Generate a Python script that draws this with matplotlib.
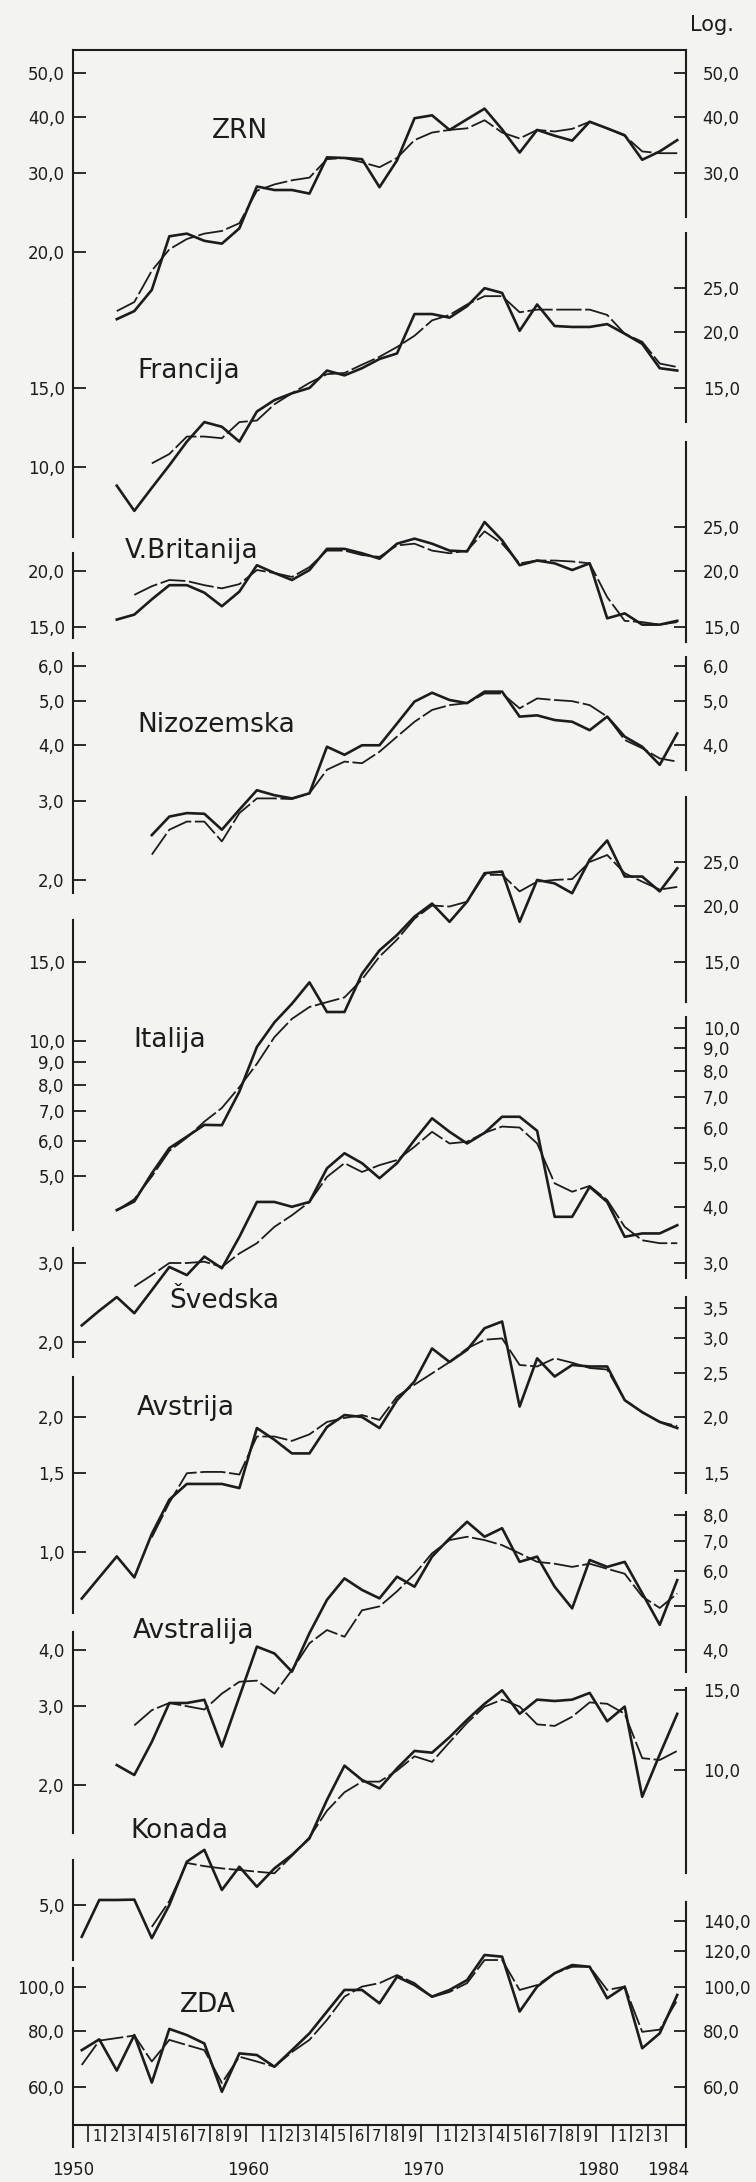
import numpy as np
import matplotlib
matplotlib.use("Agg")
import matplotlib.pyplot as plt
from matplotlib.ticker import NullLocator

plt.rcParams['font.family'] = ['DejaVu Sans']

# indices per country (log scale), actual series and smoothed trend
names = ['ZRN', 'Francija', 'V.Britanija', 'Nizozemska', 'Italija',
         'Švedska', 'Avstrija', 'Avstralija', 'Konada', 'ZDA']

zrn_start, zrn_trd_start = 1952, 1952
zrn_act = [14.2, 14.8, 16.5, 21.7, 22.0, 21.2, 20.9, 22.6, 28.0, 27.5, 27.5, 27.0, 32.5, 32.4, 32.2, 27.9, 32.0,
           39.7, 40.3, 37.4, 39.5, 41.7, 37.5, 33.3, 37.4, 36.3, 35.4, 39.0, 37.7, 36.4, 32.1, 33.5, 35.5]
zrn_trd = [14.8, 15.5, 18.2, 20.3, 21.4, 22.0, 22.3, 23.2, 27.4, 28.3, 28.9, 29.3, 32.2, 32.4, 31.7, 30.9, 32.4,
           35.5, 36.9, 37.4, 37.7, 39.3, 36.9, 35.8, 37.4, 37.1, 37.6, 39.0, 37.7, 36.3, 33.5, 33.2, 33.2]

fra_start, fra_trd_start = 1952, 1954
fra_act = [9.1, 8.0, 9.0, 10.1, 11.4, 12.6, 12.3, 11.4, 13.3, 14.1, 14.6, 15.0, 16.4, 16.0, 16.6, 17.4, 17.9,
           21.9, 21.9, 21.5, 22.8, 25.0, 24.4, 20.1, 23.0, 20.6, 20.5, 20.5, 20.8, 19.8, 18.8, 16.6, 16.4]
fra_trd = [10.2, 10.7, 11.7, 11.7, 11.6, 12.6, 12.7, 13.8, 14.6, 15.4, 16.1, 16.2, 16.9, 17.6, 18.5,
           19.6, 21.2, 21.8, 23.0, 24.0, 24.0, 22.1, 22.4, 22.4, 22.4, 22.4, 21.8, 19.8, 19.0, 17.0, 16.7]

gbr_start, gbr_trd_start = 1952, 1953
gbr_act = [15.6, 16.0, 17.3, 18.6, 18.6, 17.9, 16.7, 18.0, 20.6, 19.8, 19.1, 20.1, 22.4, 22.4, 21.9, 21.3, 23.0,
           23.6, 23.0, 22.2, 22.1, 25.7, 23.4, 20.6, 21.1, 20.8, 20.1, 20.8, 15.7, 16.1, 15.2, 15.2, 15.5]
gbr_trd = [17.7, 18.5, 19.1, 19.0, 18.6, 18.3, 18.7, 20.1, 19.8, 19.4, 20.4, 22.2, 22.2, 21.7, 21.5, 22.8,
           23.0, 22.2, 21.9, 22.2, 24.5, 23.0, 20.8, 21.1, 21.1, 21.0, 20.8, 17.5, 15.5, 15.4, 15.2, 15.4]

nld_start, nld_trd_start = 1954, 1954
nld_act = [2.52, 2.77, 2.82, 2.81, 2.59, 2.87, 3.17, 3.09, 3.04, 3.12, 3.96, 3.80, 3.99, 3.99, 4.46, 4.99,
           5.22, 5.03, 4.95, 5.25, 5.25, 4.62, 4.65, 4.54, 4.50, 4.31, 4.62, 4.17, 3.96, 3.61, 4.24]
nld_trd = [2.28, 2.59, 2.70, 2.70, 2.44, 2.82, 3.04, 3.04, 3.03, 3.12, 3.52, 3.67, 3.64, 3.86, 4.17, 4.50,
           4.78, 4.90, 4.95, 5.20, 5.20, 4.82, 5.07, 5.03, 5.00, 4.90, 4.62, 4.10, 3.93, 3.73, 3.67]

ita_start, ita_trd_start = 1952, 1952
ita_act = [4.21, 4.40, 5.08, 5.78, 6.13, 6.51, 6.5, 7.72, 9.7, 11.0, 12.1, 13.5, 11.6, 11.6, 14.1, 15.9, 17.2,
           18.9, 20.2, 18.4, 20.4, 23.6, 23.8, 18.4, 22.8, 22.4, 21.3, 25.3, 27.9, 23.2, 23.2, 21.5, 24.2]
ita_trd = [4.2, 4.45, 5.0, 5.7, 6.1, 6.62, 7.1, 7.9, 8.9, 10.2, 11.2, 11.9, 12.2, 12.5, 13.7, 15.4, 16.8,
           18.7, 20.0, 19.9, 20.4, 23.4, 23.4, 21.5, 22.6, 22.8, 22.9, 25.0, 25.9, 23.6, 22.6, 21.7, 22.0]

swe_start, swe_trd_start = 1950, 1953
swe_act = [2.18, 2.35, 2.52, 2.32, 2.61, 2.94, 2.82, 3.10, 2.92, 3.43, 4.1, 4.1, 4.0, 4.1, 4.87, 5.26, 5.0,
           4.63, 5.0, 5.63, 6.29, 5.87, 5.53, 5.84, 6.34, 6.34, 5.9, 3.8, 3.8, 4.43, 4.1, 3.43, 3.49, 3.49, 3.64]
swe_trd = [2.66, 2.82, 3.0, 3.0, 3.02, 2.94, 3.15, 3.32, 3.61, 3.83, 4.1, 4.66, 5.0, 4.78, 4.95, 5.08,
           5.44, 5.87, 5.53, 5.58, 5.84, 6.03, 6.0, 5.53, 4.51, 4.32, 4.45, 4.14, 3.61, 3.37, 3.32, 3.32]

aut_start, aut_trd_start = 1950, 1954
aut_act = [0.79, 0.88, 0.98, 0.88, 1.10, 1.31, 1.42, 1.42, 1.42, 1.39, 1.89, 1.78, 1.66, 1.66, 1.90, 2.02,
           2.0, 1.89, 2.18, 2.40, 2.84, 2.65, 2.82, 3.15, 3.26, 2.11, 2.70, 2.46, 2.61, 2.59, 2.59, 2.18,
           2.05, 1.95, 1.89]
aut_trd = [1.08, 1.29, 1.50, 1.51, 1.51, 1.49, 1.81, 1.81, 1.77, 1.83, 1.95, 1.99, 2.02, 1.97, 2.22, 2.36,
           2.50, 2.65, 2.84, 2.97, 2.99, 2.61, 2.59, 2.70, 2.64, 2.57, 2.55, 2.18, 2.05, 1.95, 1.91]

aus_start, aus_trd_start = 1952, 1953
aus_act = [2.22, 2.11, 2.50, 3.05, 3.05, 3.10, 2.44, 3.15, 4.07, 3.93, 3.58, 4.36, 5.17, 5.77, 5.44, 5.21,
           5.82, 5.53, 6.45, 7.08, 7.71, 7.14, 7.46, 6.28, 6.45, 5.53, 4.95, 6.34, 6.12, 6.28, 5.35, 4.55, 5.72]
aus_trd = [2.72, 2.94, 3.05, 3.0, 2.95, 3.2, 3.40, 3.42, 3.2, 3.61, 4.14, 4.43, 4.28, 4.9, 5.0, 5.4,
           5.9, 6.56, 7.02, 7.14, 7.02, 6.84, 6.56, 6.28, 6.22, 6.12, 6.22, 6.06, 5.91, 5.26, 4.96, 5.34]

can_start, can_trd_start = 1950, 1954
can_act = [4.25, 5.13, 5.13, 5.14, 4.22, 5.0, 6.24, 6.63, 5.4, 6.08, 5.49, 6.03, 6.46, 7.03, 8.56, 10.2,
           9.48, 9.08, 10.06, 11.0, 10.9, 11.8, 12.9, 14.0, 15.0, 13.3, 14.3, 14.2, 14.3, 14.8, 12.8, 13.8,
           8.7, 10.8, 13.3]
can_trd = [4.47, 5.1, 6.2, 6.1, 6.03, 5.98, 5.93, 5.88, 6.43, 7.07, 8.1, 8.9, 9.4, 9.4, 9.95, 10.7,
           10.4, 11.5, 12.7, 13.8, 14.3, 13.8, 12.6, 12.5, 13.1, 14.1, 14.0, 13.3, 10.6, 10.5, 11.0]

usa_start, usa_trd_start = 1950, 1950
usa_act = [72.4, 76.5, 65.2, 78.2, 61.3, 80.7, 78.2, 74.9, 58.5, 71.2, 70.6, 66.5, 72.4, 78.9, 88.2, 98.5,
           98.5, 92.0, 105.4, 101.0, 95.2, 98.5, 103.6, 117.8, 116.8, 88.2, 100.2, 107.3, 111.9, 110.9,
           94.4, 100.2, 73.1, 78.9, 96.0]
usa_trd = [67.1, 76.0, 77.0, 78.0, 68.3, 76.3, 74.3, 72.4, 61.2, 70.0, 68.3, 66.5, 71.7, 76.3, 84.5, 95.2,
           100.2, 102.0, 106.3, 102.0, 95.0, 97.5, 102.0, 114.8, 114.8, 98.5, 101.0, 107.3, 110.9, 110.9,
           98.5, 100.2, 79.5, 80.4, 93.5]

left_ticks = [[50, 40, 30, 20], [15, 10], [20, 15], [6, 5, 4, 3, 2], [15, 10, 9, 8, 7, 6, 5],
              [3, 2], [2, 1.5, 1], [4, 3, 2], [5], [100, 80, 60]]
right_ticks = [[50, 40, 30], [25, 20, 15], [25, 20, 15], [6, 5, 4], [25, 20, 15],
               [10, 9, 8, 7, 6, 5, 4, 3], [3.5, 3, 2.5, 2, 1.5], [8, 7, 6, 5, 4], [15, 10],
               [140, 120, 100, 80, 60]]

decades = [1950, 1960, 1970, 1980, 1984]
years = np.arange(1950, 1985)

series = [(zrn_start, zrn_act, zrn_trd_start, zrn_trd), (fra_start, fra_act, fra_trd_start, fra_trd),
          (gbr_start, gbr_act, gbr_trd_start, gbr_trd), (nld_start, nld_act, nld_trd_start, nld_trd),
          (ita_start, ita_act, ita_trd_start, ita_trd), (swe_start, swe_act, swe_trd_start, swe_trd),
          (aut_start, aut_act, aut_trd_start, aut_trd), (aus_start, aus_act, aus_trd_start, aus_trd),
          (can_start, can_act, can_trd_start, can_trd), (usa_start, usa_act, usa_trd_start, usa_trd)]

# ---- layout (pixels of the 756x2182 page) ----
W, H = 756, 2182
X0, X1, Y0, Y1 = 73, 686, 50, 2125
DEC = 450.0   # pixels per decade, same on every panel
anchors = [(30, 173), (15, 388), (20, 571), (3, 801), (10, 1041), (3, 1263), (2, 1417),
           (4, 1650), (5, 1905), (100, 1987)]
left_seg = [(50, 300), (300, 537), (553, 638), (653, 893), (920, 1230), (1248, 1357), (1377, 1613),
            (1632, 1833), (1860, 1960), (1968, 2147)]
right_seg = [(50, 217), (233, 422), (442, 642), (657, 770), (797, 1002), (1017, 1278), (1297, 1493),
             (1512, 1672), (1688, 1873), (1902, 2147)]
label_pos = [(212, 138), (137, 378), (125, 558), (137, 732), (133, 1047), (169, 1308), (137, 1415),
             (133, 1638), (130, 1838), (180, 2012)]

INK = '#1c1c1c'
BG = '#f3f3f1'


def fmt(v):
    return f'{v:.1f}'.replace('.', ',')


fig = plt.figure(figsize=(W / 100, H / 100), dpi=100, facecolor=BG)
rect = [X0 / W, 1 - Y1 / H, (X1 - X0) / W, (Y1 - Y0) / H]

# frame: top rule and the year axis
ax0 = fig.add_axes(rect, label='frame')
ax0.patch.set_visible(False)
ax0.set_xlim(1949.5, 1984.5)
ax0.set_ylim(0, 1)
ax0.set_yticks([])
for s in ['left', 'right']:
    ax0.spines[s].set_visible(False)
for s in ['top', 'bottom']:
    ax0.spines[s].set_linewidth(1.5)
    ax0.spines[s].set_color(INK)
ax0.set_xticks([d - 0.5 for d in decades])
ax0.set_xticklabels([str(d) for d in decades])
digit_years = [y for y in years if y % 10 != 0 and y < 1984]
ax0.set_xticks([y - 0.15 for y in digit_years], minor=True)
ax0.set_xticklabels([str(y % 10) for y in digit_years], minor=True)
ax0.tick_params(axis='x', which='major', length=0, pad=26, labelsize=12, colors=INK)
ax0.tick_params(axis='x', which='minor', length=0, pad=3, labelsize=10.5, colors=INK)
sec = ax0.secondary_xaxis('bottom')
sec.set_xticks([y + 0.35 for y in years[:-1]])
sec.tick_params(axis='x', length=12, width=1.2, colors=INK, labelbottom=False)
sec.spines['bottom'].set_visible(False)

for i, name in enumerate(names):
    ref, yref = anchors[i]

    def px2val(y, ref=ref, yref=yref):
        return ref * 10 ** ((yref - y) / DEC)

    ax = fig.add_axes(rect, label=name)
    ax.patch.set_visible(False)
    ax.set_yscale('log')
    ax.set_xlim(1949.5, 1984.5)
    ax.set_ylim(px2val(Y1), px2val(Y0))
    ax.tick_params(axis='x', bottom=False, labelbottom=False)
    for s in ['top', 'bottom', 'right']:
        ax.spines[s].set_visible(False)
    ax.spines['left'].set_bounds(px2val(left_seg[i][1]), px2val(left_seg[i][0]))
    ax.spines['left'].set_linewidth(1.5)
    ax.spines['left'].set_color(INK)
    ax.set_yticks(left_ticks[i])
    ax.set_yticklabels([fmt(t) for t in left_ticks[i]])
    ax.yaxis.set_minor_locator(NullLocator())
    ax.tick_params(axis='y', direction='in', length=9, width=1.3, pad=6, labelsize=12, colors=INK)

    axr = ax.twinx()
    axr.patch.set_visible(False)
    axr.set_yscale('log')
    axr.set_ylim(ax.get_ylim())
    for s in ['top', 'bottom', 'left']:
        axr.spines[s].set_visible(False)
    axr.spines['right'].set_bounds(px2val(right_seg[i][1]), px2val(right_seg[i][0]))
    axr.spines['right'].set_linewidth(1.5)
    axr.spines['right'].set_color(INK)
    axr.set_yticks(right_ticks[i])
    axr.set_yticklabels([fmt(t) for t in right_ticks[i]])
    axr.yaxis.set_minor_locator(NullLocator())
    axr.tick_params(axis='y', direction='in', length=9, width=1.3, pad=12, labelsize=12, colors=INK)
    axr.tick_params(axis='x', bottom=False, labelbottom=False)

    s_act, act, s_trd, trd = series[i]
    ax.plot(np.arange(s_act, s_act + len(act)), act, color=INK, lw=1.9)
    ax.plot(np.arange(s_trd, s_trd + len(trd)), trd, color=INK, lw=1.3, dashes=(14, 2))

    lx, ly = label_pos[i]
    fig.text(lx / W, 1 - ly / H, name, ha='left', va='baseline', fontsize=19, color=INK)

fig.text(712 / W, 1 - 25 / H, 'Log.', ha='center', va='center', fontsize=15, color=INK)

fig.savefig('out.png', dpi=100, facecolor=BG)
